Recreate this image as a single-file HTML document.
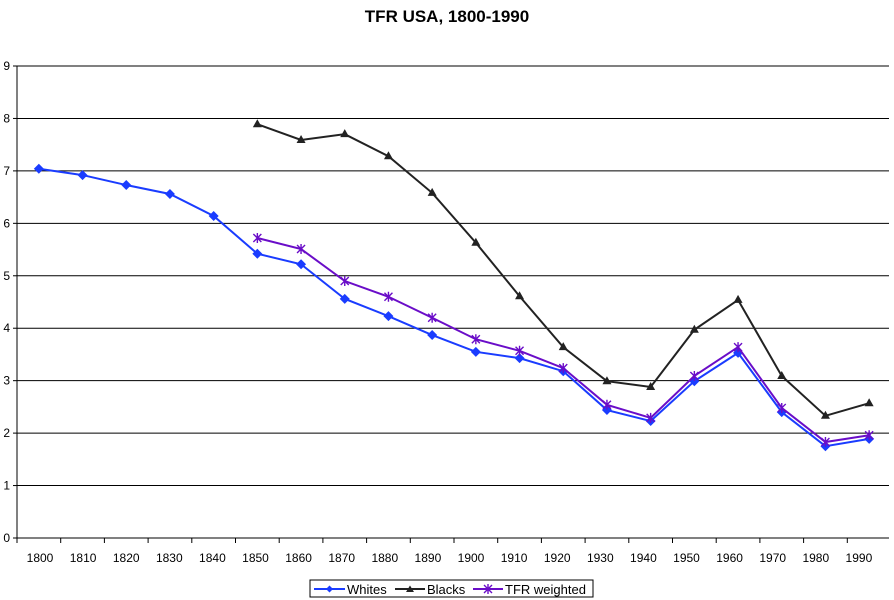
<!DOCTYPE html>
<html><head><meta charset="utf-8"><style>
body{margin:0;background:#fff;}
svg{display:block;font-family:"Liberation Sans",Arial,sans-serif;}
</style></head><body>
<svg id="c" width="894" height="600" xmlns="http://www.w3.org/2000/svg">
<text x="447" y="22" text-anchor="middle" font-size="17" font-weight="bold">TFR USA, 1800-1990</text>
<g id="grid"></g><g id="axes"></g><g id="series"></g>
<g>
<rect x="310" y="580" width="283" height="17" fill="#fff" stroke="#000"/>
<g><line x1="314" y1="589" x2="345" y2="589" stroke="#1a3cff" stroke-width="2"/><path d="M329.5 585.5 L333 589 L329.5 592.5 L326 589Z" fill="#1a3cff"/><text x="347" y="594" font-size="13">Whites</text></g>
<g><line x1="395" y1="589" x2="425" y2="589" stroke="#222" stroke-width="2"/><path d="M410 585.5 L414 592 L406 592Z" fill="#222"/><text x="427" y="594" font-size="13">Blacks</text></g>
<g><line x1="473" y1="589" x2="503" y2="589" stroke="#6a0dc8" stroke-width="2"/><path d="M484 585 L492 593 M492 585 L484 593 M488 584 L488 594" stroke="#6a0dc8" stroke-width="1.4"/><text x="505" y="594" font-size="13">TFR weighted</text></g>
</g>
</svg>
<script>
const years=[1800,1810,1820,1830,1840,1850,1860,1870,1880,1890,1900,1910,1920,1930,1940,1950,1960,1970,1980,1990];
const whites=[7.04,6.92,6.73,6.56,6.14,5.42,5.22,4.56,4.23,3.87,3.55,3.43,3.18,2.44,2.23,2.99,3.53,2.40,1.75,1.89];
const blacks=[null,null,null,null,null,7.89,7.59,7.70,7.28,6.58,5.63,4.61,3.64,2.99,2.88,3.97,4.54,3.09,2.33,2.57];
const tfrWeighted=[null,null,null,null,null,5.72,5.51,4.90,4.60,4.20,3.79,3.57,3.24,2.54,2.29,3.09,3.64,2.48,1.83,1.96];
const yTicks=[0,1,2,3,4,5,6,7,8,9];
const NS="http://www.w3.org/2000/svg";
const X0=17,X1=891,Y0=538,Y1=66;
const step=(X1-X0)/years.length;
const xs=i=>X0+step*(i+0.5);
const xl=i=>40+43.1*i;
const ys=v=>Y0-(v/9)*(Y0-Y1);
function mk(t,a,p){const e=document.createElementNS(NS,t);for(const k in a)e.setAttribute(k,a[k]);p.appendChild(e);return e;}
const grid=document.getElementById('grid'),axes=document.getElementById('axes'),ser=document.getElementById('series');
yTicks.forEach(v=>{
 if(v>0){const l=mk('line',{x1:X0,x2:X1-2,y1:ys(v),y2:ys(v),stroke:'#000','stroke-width':1},grid);
 
 }
 const t=mk('text',{x:10,y:ys(v)+4,'text-anchor':'end','font-size':12},axes);t.textContent=v;
 
 
 mk('line',{x1:X0-4,x2:X0,y1:ys(v),y2:ys(v),stroke:'#000'},axes);
});
const ya=mk('line',{x1:X0,x2:X0,y1:Y1,y2:Y0,stroke:'#000'},axes);


const xa=mk('line',{x1:X0,x2:X1-2,y1:Y0,y2:Y0,stroke:'#000'},axes);


years.forEach((y,i)=>{
 mk('line',{x1:X0+step*i,x2:X0+step*i,y1:Y0,y2:Y0+5,stroke:'#000'},axes);
 const t=mk('text',{x:xl(i),y:Y0+24,'text-anchor':'middle','font-size':12},axes);t.textContent=y;
 
 
});
function series(vals,color,marker,name){
 const g=mk('g',{},ser);
 
 
 let d='';vals.forEach((v,i)=>{if(v==null)return;d+=(d?'L':'M')+xs(i)+' '+ys(v);});
 mk('path',{d:d,fill:'none',stroke:color,'stroke-width':2},g);
 vals.forEach((v,i)=>{if(v==null)return;const x=xs(i),y=ys(v);let m;
  if(marker==='d')m=mk('path',{d:`M${x} ${y-5}L${x+5} ${y}L${x} ${y+5}L${x-5} ${y}Z`,fill:color},g);
  else if(marker==='t')m=mk('path',{d:`M${x} ${y-5}L${x+4.5} ${y+3}L${x-4.5} ${y+3}Z`,fill:color},g);
  else m=mk('path',{d:`M${x-4} ${y-4}L${x+4} ${y+4}M${x+4} ${y-4}L${x-4} ${y+4}M${x} ${y-5}L${x} ${y+5}`,stroke:color,'stroke-width':1.4},g);
  
  
 });
}
series(blacks,'#222','t','series-blacks');
series(whites,'#1a3cff','d','series-whites');
series(tfrWeighted,'#6a0dc8','x','series-tfr-weighted');
</script>
</body></html>
